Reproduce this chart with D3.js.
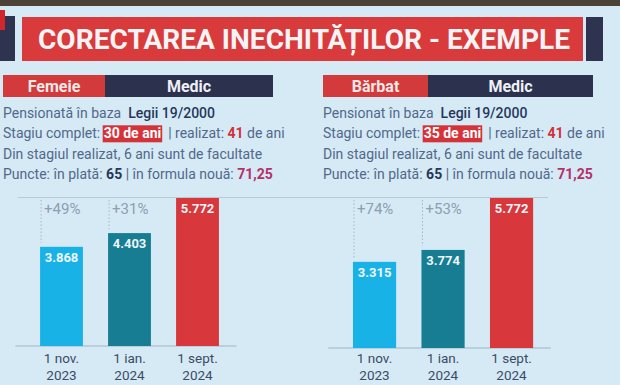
<!DOCTYPE html>
<head>
  <meta charset="utf-8">
  <script src="https://d3js.org/d3.v7.min.js"></script>
  <style>
    body { margin:0; background:#d5eaf5; }
    text { font-family: Roboto, "Noto Sans", sans-serif; white-space: pre; }
  </style>
</head>
<body>
<script>
  // chart data
  var dates = ["1 nov.|2023", "1 ian.|2024", "1 sept.|2024"];
  var femeieValues = [3868, 4403, 5772];
  var barbatValues = [3315, 3774, 5772];
  var femeiePct = ["+49%", "+31%"];
  var barbatPct = ["+74%", "+53%"];
  var barColors = ["#19b2e6", "#167d93", "#d8383b"];

  var width = 620, height = 385;
  var svg = d3.select("body").append("svg")
      .attr("width", width)
      .attr("height", height);

  svg.append("rect").attr("width", width).attr("height", height).attr("fill", "#d5eaf5");
  svg.append("rect").attr("width", width).attr("height", 6).attr("fill", "#4b4238");

  // title banner
  svg.append("rect").attr("x", 0).attr("y", 16).attr("width", 15).attr("height", 45).attr("fill", "#2e3450");
  svg.append("rect").attr("x", 0).attr("y", 10).attr("width", 5).attr("height", 20).attr("fill", "#d1262b");
  svg.append("rect").attr("x", 586).attr("y", 17).attr("width", 17).attr("height", 44).attr("fill", "#2e3450");
  svg.append("rect").attr("x", 22).attr("y", 17).attr("width", 561).attr("height", 44).attr("fill", "#d93a3b");
  svg.append("text")
      .attr("x", 38).attr("y", 49)
      .attr("textLength", 532).attr("lengthAdjust", "spacingAndGlyphs")
      .attr("fill", "#f4f4f6")
      .style("font-size", "28px").style("font-weight", "bold")
      .text("CORECTAREA INECHITĂȚILOR - EXEMPLE");

  function panel(x0, gen, genW, lines, values, pct, bandRange, base) {
    var g = svg.append("g");
    g.append("rect").attr("x", x0).attr("y", 75).attr("width", genW).attr("height", 22).attr("fill", "#d33a3c");
    g.append("rect").attr("x", x0 + genW).attr("y", 75).attr("width", 270 - genW).attr("height", 22).attr("fill", "#2c324e");
    g.append("text").attr("x", x0 + genW / 2).attr("y", 92).attr("text-anchor", "middle")
      .attr("fill", "#f1e8e8").style("font-size", "16px").style("font-weight", "bold").text(gen);
    g.append("text").attr("x", x0 + genW + (270 - genW) / 2).attr("y", 92).attr("text-anchor", "middle")
      .attr("fill", "#eef0f6").style("font-size", "16px").style("font-weight", "bold").text("Medic");

    // info lines: pieces drawn one after the other
    lines.forEach(function(line, i) {
      var cx = x0;
      var yy = 118 + i * 20.3;
      line.forEach(function(p) {
        var t = g.append("text").attr("x", cx).attr("y", yy)
          .style("font-size", "14px")
          .style("font-weight", p.b ? "bold" : (p.m ? 500 : "normal"))
          .attr("fill", p.c || "#52688a")
          .text(p.t);
        var w = t.node().getComputedTextLength();
        if (p.box) {
          g.insert("rect", "text").attr("x", cx - 1).attr("y", yy - 13).attr("width", w + 2).attr("height", 17).attr("fill", "#d5333a");
          t.attr("fill", "#fff");
        }
        cx += w;
      });
    });

    var x = d3.scaleBand().domain(dates).range(bandRange).paddingInner(0.37).paddingOuter(0.185);
    var y = d3.scaleLinear().domain([0, 5772]).range([base, 198]);

    g.append("line").attr("x1", bandRange[0] - 12).attr("x2", bandRange[1] + 5)
      .attr("y1", base).attr("y2", base).attr("stroke", "#9fb3c6").attr("stroke-width", 1);

    g.selectAll(".bar").data(values).enter().append("rect")
      .attr("x", function(d, i) { return x(dates[i]); })
      .attr("y", function(d) { return y(d); })
      .attr("width", x.bandwidth())
      .attr("height", function(d) { return base - y(d); })
      .attr("fill", function(d, i) { return barColors[i]; });

    g.selectAll(".val").data(values).enter().append("text")
      .attr("x", function(d, i) { return x(dates[i]) + x.bandwidth() / 2; })
      .attr("y", function(d) { return y(d) + 15; })
      .attr("text-anchor", "middle")
      .attr("fill", "#eef6fa").style("font-size", "13px").style("font-weight", "bold")
      .text(function(d) { return d3.format(",")(d).replace(",", "."); });

    g.selectAll(".pline").data(pct).enter().append("line")
      .attr("x1", function(d, i) { return x(dates[i]) + 1; })
      .attr("x2", function(d, i) { return x(dates[i]) + 1; })
      .attr("y1", 200)
      .attr("y2", function(d, i) { return y(values[i]) - 4; })
      .attr("stroke", "#98a8ba").attr("stroke-width", 0.8).style("stroke-dasharray", "1.5,2");

    g.selectAll(".pct").data(pct).enter().append("text")
      .attr("x", function(d, i) { return x(dates[i]) + 4; })
      .attr("y", 214)
      .attr("fill", "#8e9db0").style("font-size", "15px")
      .text(function(d) { return d; });

    dates.forEach(function(d, i) {
      var parts = d.split("|");
      var cx = x(d) + x.bandwidth() / 2;
      parts.forEach(function(p, j) {
        g.append("text").attr("x", cx).attr("y", 363 + j * 17).attr("text-anchor", "middle")
          .attr("fill", "#3c4c66").style("font-size", "13.5px").text(p);
      });
    });
  }

  // top thin gray line
  svg.append("line").attr("x1", 18).attr("x2", 548).attr("y1", 197.5).attr("y2", 197.5)
    .attr("stroke", "#b8c8d6").attr("stroke-width", 1);

  var navy = "#26375a", red = "#d3303a", mag = "#b4306a";
  panel(3, "Femeie", 102, [
    [{t: "Pensionată în baza  "}, {t: "Legii 19/2000", c: navy, m: true}],
    [{t: "Stagiu complet: "}, {t: "30 de ani", b: true, box: true}, {t: "  | realizat: "}, {t: "41", b: true, c: red}, {t: " de ani"}],
    [{t: "Din stagiul realizat, 6 ani sunt de facultate"}],
    [{t: "Puncte: în plată: "}, {t: "65", b: true, c: navy}, {t: " | în formula nouă: "}, {t: "71,25", b: true, c: mag}]
  ], femeieValues, femeiePct, [27.5, 231.5], 346);

  panel(323, "Bărbat", 105, [
    [{t: "Pensionat în baza  "}, {t: "Legii 19/2000", c: navy, m: true}],
    [{t: "Stagiu complet: "}, {t: "35 de ani", b: true, box: true}, {t: "  | realizat: "}, {t: "41", b: true, c: red}, {t: " de ani"}],
    [{t: "Din stagiul realizat, 6 ani sunt de facultate"}],
    [{t: "Puncte: în plată: "}, {t: "65", b: true, c: navy}, {t: " | în formula nouă: "}, {t: "71,25", b: true, c: mag}]
  ], barbatValues, barbatPct, [340.3, 545.8], 348);
</script>
</body>
